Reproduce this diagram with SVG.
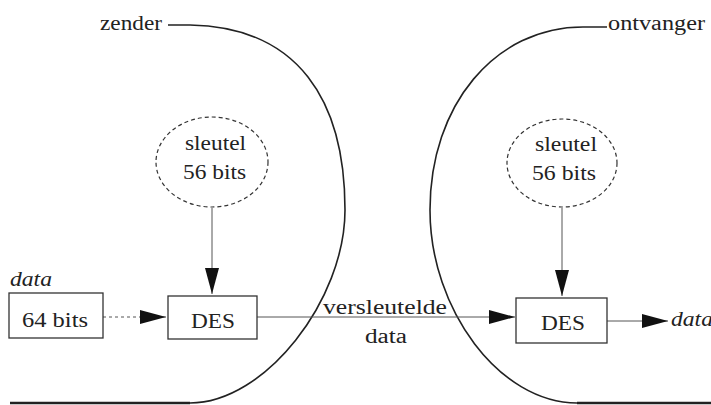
<svg xmlns="http://www.w3.org/2000/svg" width="711" height="405" viewBox="0 0 711 405">
<style>
text{font-family:'Liberation Serif','Times New Roman','DejaVu Serif',serif;font-size:20px;fill:#222}
.it{font-style:italic}
.bound{fill:none;stroke:#222;stroke-width:1.6}
.box{fill:#fff;stroke:#333;stroke-width:1.3}
.key{fill:#fff;stroke:#333;stroke-width:1.2;stroke-dasharray:4 3}
.conn{fill:none;stroke:#555;stroke-width:1}
</style>
<defs>
<marker id="ah" markerUnits="userSpaceOnUse" markerWidth="27" markerHeight="15" refX="26" refY="7" orient="auto">
<path d="M0,0 L26,7 L0,14 Z" fill="#111"/>
</marker>
</defs>
<g id="zender">
<path class="bound" d="M168,25 H190 C298,27 345,100 345,210 C345,300 265,403 190,403"/>
<path d="M10,403 H190" stroke="#222" stroke-width="2.4"/>
<text x="100" y="30" textLength="62" lengthAdjust="spacingAndGlyphs">zender</text>
</g>
<g id="ontvanger">
<path class="bound" d="M607,27 H583 C495,27 430,105 430,210 C430,310 500,403 577,403"/>
<path d="M577,403 H711" stroke="#222" stroke-width="2.4"/>
<text x="608" y="30" textLength="97" lengthAdjust="spacingAndGlyphs">ontvanger</text>
</g>
<g id="connectors">
<line class="conn" x1="212" y1="208" x2="212" y2="294" marker-end="url(#ah)"/>
<line class="conn" x1="562" y1="208" x2="562" y2="296" marker-end="url(#ah)"/>
<line class="conn" x1="103" y1="317" x2="166" y2="317" stroke-dasharray="3 3" marker-end="url(#ah)"/>
<line class="conn" x1="257" y1="317" x2="515" y2="317" marker-end="url(#ah)"/>
<line class="conn" x1="607" y1="321" x2="668" y2="321" marker-end="url(#ah)"/>
</g>
<g id="data-in">
<text class="it" x="10" y="286" textLength="42" lengthAdjust="spacingAndGlyphs">data</text>
<rect class="box" x="9" y="293" width="94" height="45"/>
<text x="22" y="327" textLength="66" lengthAdjust="spacingAndGlyphs">64 bits</text>
</g>
<g id="key-left">
<ellipse class="key" cx="212" cy="162" rx="56" ry="45"/>
<text x="185" y="150" textLength="61" lengthAdjust="spacingAndGlyphs">sleutel</text>
<text x="183" y="179" textLength="63" lengthAdjust="spacingAndGlyphs">56 bits</text>
</g>
<g id="key-right">
<ellipse class="key" cx="562" cy="163" rx="55" ry="44"/>
<text x="535" y="151" textLength="62" lengthAdjust="spacingAndGlyphs">sleutel</text>
<text x="532" y="180" textLength="64" lengthAdjust="spacingAndGlyphs">56 bits</text>
</g>
<g id="des-left">
<rect class="box" x="168" y="296" width="89" height="43"/>
<text x="191" y="328" textLength="44" lengthAdjust="spacingAndGlyphs">DES</text>
</g>
<g id="des-right">
<rect class="box" x="516" y="298" width="91" height="45"/>
<text x="541" y="330" textLength="44" lengthAdjust="spacingAndGlyphs">DES</text>
</g>
<g id="label-versleutelde">
<text x="323" y="314" textLength="124" lengthAdjust="spacingAndGlyphs">versleutelde</text>
<text x="365" y="343" textLength="42" lengthAdjust="spacingAndGlyphs">data</text>
</g>
<g id="data-out">
<text class="it" x="671" y="326" textLength="42" lengthAdjust="spacingAndGlyphs">data</text>
</g>
</svg>
